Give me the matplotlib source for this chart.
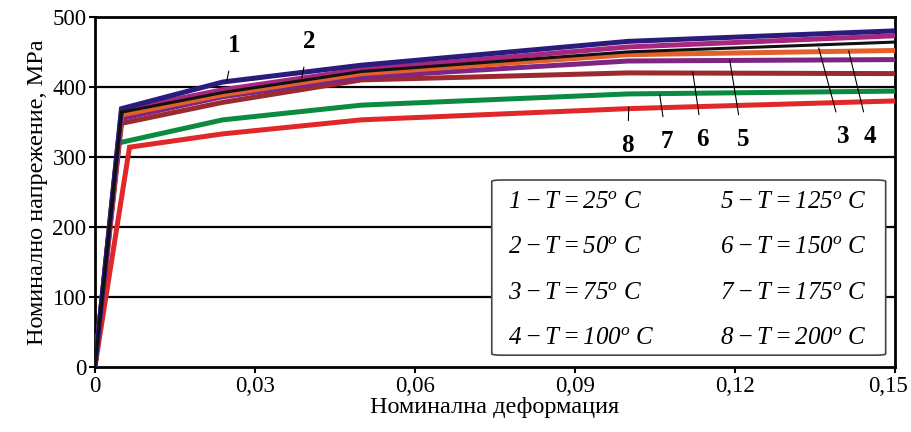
import matplotlib.pyplot as plt
import matplotlib.transforms as mtransforms
from matplotlib.patches import FancyBboxPatch

plt.rcParams['font.family'] = ['Liberation Serif', 'DejaVu Serif']
plt.rcParams['mathtext.fontset'] = 'custom'
plt.rcParams['mathtext.rm'] = 'Liberation Serif:italic'
plt.rcParams['mathtext.it'] = 'Liberation Serif:italic'

# strain points (yield strain differs per curve)
strain_tail = [0.024, 0.05, 0.10, 0.15]
yield_strain = [0.005, 0.005, 0.005, 0.005, 0.005, 0.005, 0.0044, 0.0065]

# stress, MPa, at [0, yield, 0.024, 0.05, 0.10, 0.15]
s1 = [0, 369, 407, 431, 465, 480]
s2 = [0, 367, 396, 425, 457, 473]
s3 = [0, 364, 392, 422, 450, 464]
s4 = [0, 360, 389, 419, 446, 452]
s5 = [0, 355, 386, 414, 437, 439]
s6 = [0, 348, 378, 410, 420, 419]
s7 = [0, 320, 353, 374, 390, 394]
s8 = [0, 314, 333, 353, 369, 380]
stresses = [s1, s2, s3, s4, s5, s6, s7, s8]

temps = [25, 50, 75, 100, 125, 150, 175, 200]
colors = ['#2a1b7c', '#a8267f', '#111111', '#e3602a', '#7e2583',
          '#9a2a2e', '#0b8b3f', '#e0282a']
widths = [3.6, 3.6, 2.2, 3.6, 3.6, 3.6, 3.6, 3.6]

xticks = [0, 0.03, 0.06, 0.09, 0.12, 0.15]
xticklabels = ['0', '0,03', '0,06', '0,09', '0,12', '0,15']
yticks = [0, 100, 200, 300, 400, 500]

fig = plt.figure(figsize=(9.12, 4.32), dpi=100)
ax = fig.add_axes([0.104, 0.150, 0.877, 0.811])

# draw from 8 up to 1 so curve 1 ends on top; black (3) last
order = [7, 6, 5, 4, 3, 1, 0, 2]
for i in order:
    xs = [0, yield_strain[i]] + strain_tail
    ax.plot(xs, stresses[i], color=colors[i], lw=widths[i],
            solid_joinstyle='miter', zorder=3)

for y in yticks[1:-1]:
    ax.axhline(y, color='black', lw=1.6, zorder=1)

ax.set_xlim(0, 0.15)
ax.set_ylim(0, 500)
ax.set_xticks(xticks)
ax.set_xticklabels(xticklabels)
ax.set_yticks(yticks)
ax.tick_params(labelsize=16.5, direction='out', length=4, width=1.5, pad=2)
for sp in ax.spines.values():
    sp.set_linewidth(2)
ax.set_xlabel('Номинална деформация', fontsize=17.5, labelpad=0)
ax.set_ylabel('Номинално напрежение, MPa', fontsize=17.5, labelpad=3)

# nudge last x tick label so it stays inside the figure
last = ax.get_xticklabels()[-1]
last.set_transform(last.get_transform() +
                   mtransforms.ScaledTranslation(-7 / 100, 0, fig.dpi_scale_trans))

# curve number labels with leader lines (pixel estimates -> data)
def px(xp, yp):
    return ((xp - 95) / 5333.3, (367 - yp) / 0.7)

labels = [('1', (227, 81), (234, 46)), ('2', (302, 78), (309, 42)),
          ('8', (629, 107), (628, 146)), ('7', (660, 95), (667, 142)),
          ('6', (693, 72), (703, 140)), ('5', (730, 60), (743, 140)),
          ('3', (819, 48), (843, 137)), ('4', (849, 51), (870, 137))]
for txt, p_end, p_txt in labels:
    tx, ty = px(*p_txt)
    ex, ey = px(*p_end)
    ax.annotate(txt, xy=(ex, ey), xytext=(tx, ty), fontsize=18,
                fontweight='bold', ha='center', va='center', zorder=5,
                arrowprops=dict(arrowstyle='-', color='black', lw=0.8,
                                shrinkA=8, shrinkB=0))

# legend box
x0, y0 = px(492, 355)
x1, y1 = px(886, 180)
box = FancyBboxPatch((x0, y0), x1 - x0, y1 - y0,
                     boxstyle='round,pad=0,rounding_size=0.002',
                     mutation_aspect=1000,
                     fc='white', ec='#444444', lw=1.2, zorder=4)
ax.add_patch(box)
rows = [202, 247, 293, 338]
for k, t in enumerate(temps):
    col = k // 4
    row = k % 4
    xt, yt = px(508 if col == 0 else 720, rows[row])
    ax.text(xt, yt, r'$%d - T = %d^{o}\ C$' % (k + 1, t),
            fontsize=18, ha='left', va='center', zorder=5)

fig.savefig('out.png', dpi=100)
